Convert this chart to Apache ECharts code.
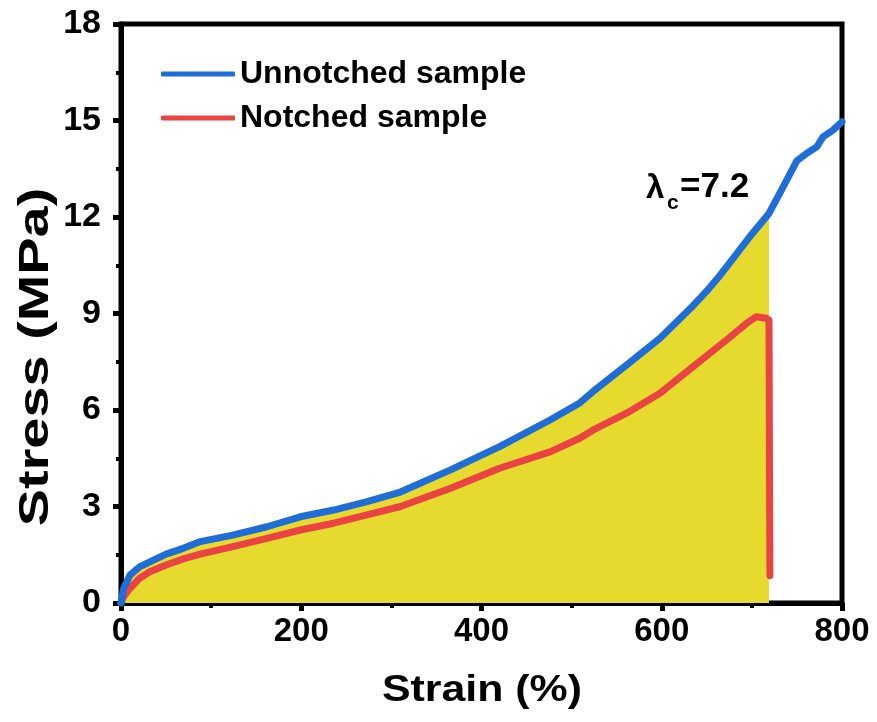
<!DOCTYPE html>
<html>
<head>
<meta charset="utf-8">
<script src="https://cdn.jsdelivr.net/npm/echarts@6/dist/echarts.min.js"></script>
<style>
html,body{margin:0;padding:0;background:#fff;}
#chart{width:877px;height:722px;}
</style>
</head>
<body>
<div id="chart"></div>
<script>
// ---- data ----
const seriesNames = ['Unnotched sample', 'Notched sample'];
const xTicks = [0, 200, 400, 600, 800];
const yTicks = [0, 3, 6, 9, 12, 15, 18];

const unnotchedStrain = [0, 3, 10, 21, 32, 50, 69, 88, 124, 162, 199, 236, 273, 310, 365, 420, 476, 509, 524, 561, 598, 635, 650, 665, 676, 698, 719, 735, 750, 761, 772, 779, 790, 800];
const unnotchedStress = [0, 0.46, 0.87, 1.13, 1.28, 1.52, 1.70, 1.91, 2.11, 2.37, 2.68, 2.89, 3.15, 3.45, 4.13, 4.86, 5.69, 6.22, 6.58, 7.40, 8.23, 9.25, 9.70, 10.2, 10.6, 11.4, 12.11, 12.95, 13.75, 13.98, 14.18, 14.49, 14.70, 14.96];

const notchedStrain = [0, 3, 10, 21, 32, 50, 69, 88, 124, 162, 199, 236, 273, 310, 365, 420, 476, 509, 524, 561, 598, 635, 672, 694, 705, 716, 719, 720];
const notchedStress = [0, 0.2, 0.46, 0.78, 0.97, 1.18, 1.37, 1.52, 1.75, 2.01, 2.27, 2.48, 2.74, 3.0, 3.56, 4.19, 4.70, 5.12, 5.38, 5.90, 6.52, 7.35, 8.18, 8.69, 8.90, 8.85, 8.8, 0.85];

const criticalStrain = 719; // shaded region ends here (λc = 7.2)
const annotationText = 'λ';
const annotationSub = 'c';
const annotationValue = '=7.2';

// ---- build ----
const blueData = unnotchedStrain.map((s, i) => [s, unnotchedStress[i]]);
const redData = notchedStrain.map((s, i) => [s, notchedStress[i]]);
const fillData = blueData.filter(d => d[0] <= criticalStrain);

const FONT = '"Liberation Sans", Arial, sans-serif';
const BLUE = '#1F6ED8';
const RED = '#EA4343';
const YELLOW = '#E6DA2F';

const chart = echarts.init(document.getElementById('chart'), null, {renderer: 'canvas'});
chart.setOption({
  animation: false,
  backgroundColor: '#fff',
  grid: {left: 121, right: 35, top: 24, bottom: 119, show: true, borderColor: '#000', borderWidth: 5, backgroundColor: 'transparent'},
  legend: {
    data: seriesNames,
    orient: 'vertical',
    left: 156, top: 53,
    icon: 'roundRect',
    itemWidth: 74, itemHeight: 5,
    itemGap: 12,
    textStyle: {fontFamily: FONT, fontWeight: 'bold', fontSize: 32, color: '#000', padding: [0, 0, 0, 0]}
  },
  xAxis: {
    type: 'value', min: 0, max: 800, interval: 200,
    axisLine: {show: true, onZero: false, lineStyle: {color: '#000', width: 5}},
    axisTick: {show: true, length: 8, lineStyle: {color: '#000', width: 5}},
    minorTick: {show: true, splitNumber: 2, length: 5, lineStyle: {color: '#000', width: 4}},
    splitLine: {show: false},
    axisLabel: {margin: 12, fontFamily: FONT, fontWeight: 'bold', fontSize: 33, color: '#000',
      formatter: v => xTicks.includes(v) ? String(v) : ''}
  },
  yAxis: {
    type: 'value', min: 0, max: 18, interval: 3,
    axisLine: {show: true, onZero: false, lineStyle: {color: '#000', width: 5}},
    axisTick: {show: true, length: 8, lineStyle: {color: '#000', width: 5}},
    minorTick: {show: true, splitNumber: 2, length: 5, lineStyle: {color: '#000', width: 4}},
    splitLine: {show: false},
    axisLabel: {margin: 20, fontFamily: FONT, fontWeight: 'bold', fontSize: 34, color: '#000',
      formatter: v => yTicks.includes(v) ? String(v) : ''}
  },
  series: [
    {
      name: 'fill', type: 'line', data: fillData, showSymbol: false, symbol: 'none',
      lineStyle: {width: 0}, areaStyle: {color: YELLOW, opacity: 1}, z: 1, silent: true
    },
    {
      name: seriesNames[1], type: 'line', data: redData, showSymbol: false, symbol: 'none',
      lineStyle: {color: RED, width: 7, cap: 'round', join: 'round'}, itemStyle: {color: RED}, z: 2
    },
    {
      name: seriesNames[0], type: 'line', data: blueData, showSymbol: false, symbol: 'none',
      lineStyle: {color: BLUE, width: 7, cap: 'round', join: 'round'}, itemStyle: {color: BLUE}, z: 3
    }
  ],
  graphic: [
    {type: 'text', x: 482, y: 691, scaleX: 1.19,
      style: {text: 'Strain (%)', font: 'bold 36px ' + FONT, fill: '#000', textAlign: 'center', textVerticalAlign: 'middle'}},
    {type: 'text', x: 36, y: 357, rotation: Math.PI / 2, scaleX: 1.3,
      style: {text: 'Stress (MPa)', font: 'bold 43px ' + FONT, fill: '#000', textAlign: 'center', textVerticalAlign: 'middle'}},
    {type: 'text', x: 646, y: 205,
      style: {text: annotationText, font: 'bold 33px ' + FONT, fill: '#000', textAlign: 'left', textVerticalAlign: 'bottom'}},
    {type: 'text', x: 667, y: 214,
      style: {text: annotationSub, font: 'bold 21px ' + FONT, fill: '#000', textAlign: 'left', textVerticalAlign: 'bottom'}},
    {type: 'text', x: 680, y: 205,
      style: {text: annotationValue, font: 'bold 35px ' + FONT, fill: '#000', textAlign: 'left', textVerticalAlign: 'bottom'}}
  ]
});
</script>
</body>
</html>
